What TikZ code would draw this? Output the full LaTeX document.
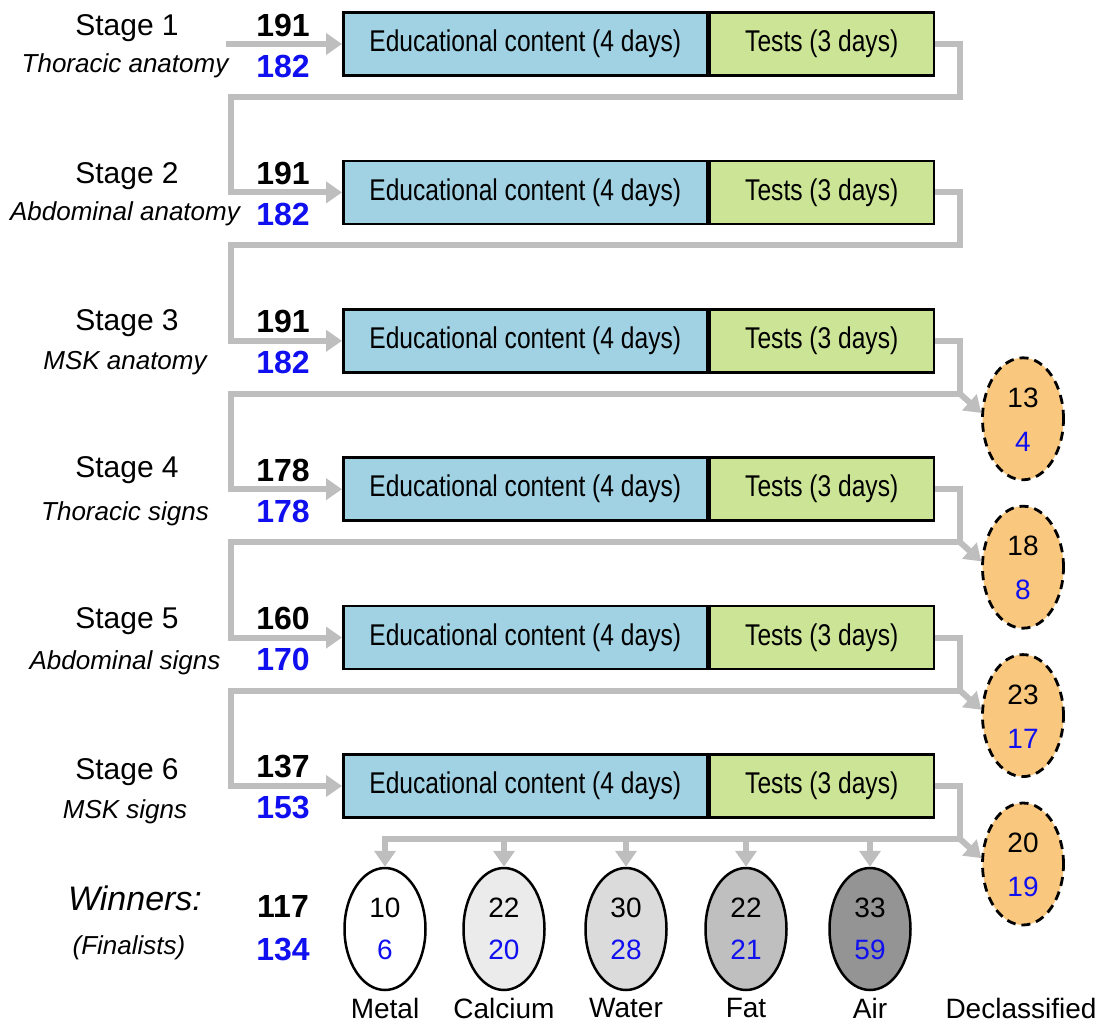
\documentclass[tikz,border=0pt]{standalone}
\usepackage{fontspec}
\setmainfont{Liberation Sans}
\newfontfamily\narrowfont[FakeStretch=0.82]{Liberation Sans}
\usetikzlibrary{shapes.geometric,arrows.meta,calc}

\definecolor{edublue}{RGB}{161,210,228}
\definecolor{testgreen}{RGB}{203,228,150}
\definecolor{declorange}{RGB}{249,200,126}
\definecolor{flowgray}{RGB}{190,190,190}
\definecolor{numblue}{RGB}{15,15,240}

\tikzset{
  box/.style={draw=black, line width=2.5pt, minimum height=63pt, inner sep=0pt,
    font=\narrowfont\fontsize{30}{32}\selectfont},
  edubox/.style={box, fill=edublue, minimum width=364pt},
  testbox/.style={box, fill=testgreen, minimum width=224pt},
  flow/.style={draw=flowgray, line width=6pt, line join=miter},
  flowarrow/.style={flow, -{Triangle[length=16pt,width=21pt]}, color=flowgray},
  stagelabel/.style={font=\fontsize{30}{32}\selectfont},
  sublabel/.style={font=\itshape\fontsize{26}{28}\selectfont},
  total/.style={font=\bfseries\fontsize{32}{34}\selectfont},
  finalist/.style={total, text=numblue},
  pill/.style={ellipse, draw=black, line width=2.5pt, minimum width=81pt,
    minimum height=122pt, inner sep=0pt},
  declpill/.style={pill, fill=declorange, line width=2.8pt, dash pattern=on 9pt off 6pt},
  pillnum/.style={font=\fontsize{28}{30}\selectfont},
  pillblue/.style={pillnum, text=numblue},
  category/.style={font=\fontsize{28}{30}\selectfont},
}

\begin{document}
\begin{tikzpicture}[x=1pt, y=-1pt]
\useasboundingbox (0,0) rectangle (1104,1025);

% stage rows: index / stage name / topic / total / finalists / stage offset / topic offset
\foreach \i/\st/\sub/\na/\nb/\so/\uo in {
  1/Stage 1/Thoracic anatomy/191/182/-16/22,
  2/Stage 2/Abdominal anatomy/191/182/-16/21,
  3/Stage 3/MSK anatomy/191/182/-18/22,
  4/Stage 4/Thoracic signs/178/178/-19/25,
  5/Stage 5/Abdominal signs/160/170/-16/25,
  6/Stage 6/MSK signs/137/153/-14/26} {
  \pgfmathsetmacro{\yc}{44+148.4*(\i-1)}
  \node[edubox, anchor=west] (edu\i) at (342,\yc) {Educational content (4 days)};
  \node[testbox, anchor=west] (test\i) at (edu\i.east) {Tests (3 days)};
  \node[stagelabel] (stage\i) at (127,\yc+\so) {\st};
  \node[sublabel] (topic\i) at (125,\yc+\uo) {\sub};
  \node[total] (tot\i) at (283,\yc-19) {\na};
  \node[finalist] (fin\i) at (283,\yc+22) {\nb};
}

% entry arrow into the first stage
\coordinate (start) at (226,44);
\draw[flowarrow] (start) -- (edu1.west);

% links from each stage to the next one
\foreach \i/\j in {1/2,2/3,3/4,4/5,5/6} {
  \pgfmathsetmacro{\yh}{44+148.4*(\i-1)+53}
  \coordinate (turn\i) at (960,\yh);
  \draw[flowarrow] (test\i.east) -- (turn\i |- test\i.east) -- (turn\i)
     -- (231,\yh) |- (edu\j.west);
}
\coordinate (turn6) at (960,{44+148.4*5+53});
\draw[flow] (test6.east) -- (turn6 |- test6.east) -- (turn6);

% declassified participants after stages 3 to 6
\foreach \i/\a/\b in {3/13/4, 4/18/8, 5/23/17, 6/20/19} {
  \node[declpill] (decl\i) at ($(turn\i)+(63,25)$) {};
  \node[pillnum] (declA\i) at ($(decl\i.center)+(0,-21)$) {\a};
  \node[pillblue] (declB\i) at ($(decl\i.center)+(0,23)$) {\b};
  \draw[flowarrow] (turn\i) -- (decl\i.172);
}
\node[category] (declname) at (1021,1008) {Declassified};

% winners by category
\foreach \k/\x/\fillc/\a/\b/\name in {
  1/385/white/10/6/Metal,
  2/504/black!8/22/20/Calcium,
  3/626/black!14/30/28/Water,
  4/746/black!25/22/21/Fat,
  5/870/black!42/33/59/Air} {
  \node[pill, fill=\fillc] (win\k) at (\x,929) {};
  \node[pillnum] (winA\k) at ($(win\k.center)+(0,-21)$) {\a};
  \node[pillblue] (winB\k) at ($(win\k.center)+(0,21)$) {\b};
  \node[category] (winname\k) at (\x,1008) {\name};
}
\draw[flowarrow] (turn6) -- (win1.north |- turn6) -- (win1.north);
\foreach \k in {2,3,4,5} {
  \draw[flowarrow] (win\k.north |- turn6) -- (win\k.north);
}

% winners / finalists totals
\node[font=\itshape\fontsize{34}{36}\selectfont] (winners) at (135,898) {Winners:};
\node[sublabel] (finalists) at (129,948) {(Finalists)};
\node[total] (wintot) at (283,906) {117};
\node[finalist] (winfin) at (283,950) {134};
\end{tikzpicture}
\end{document}
